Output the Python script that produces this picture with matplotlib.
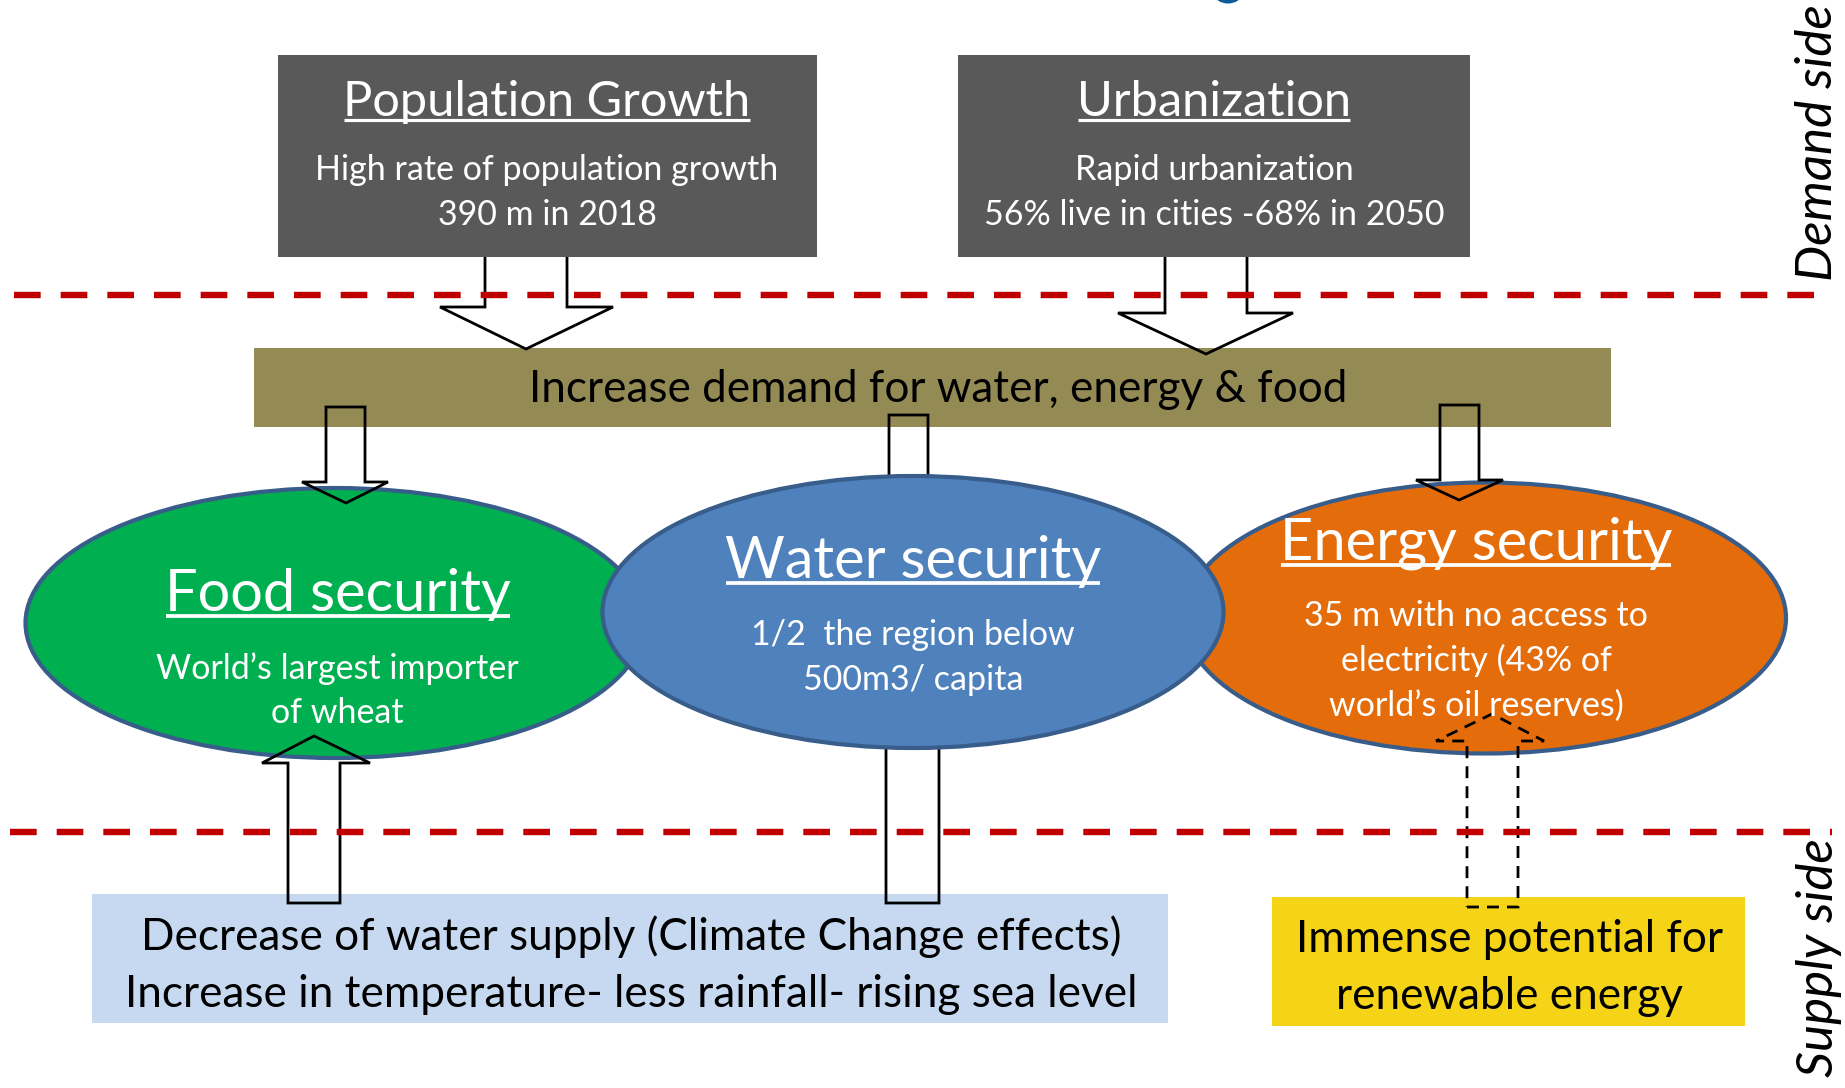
import matplotlib
matplotlib.use("Agg")
import matplotlib.pyplot as plt
from matplotlib.patches import Rectangle, Ellipse, Polygon

plt.rcParams['font.family'] = ['Lato', 'DejaVu Sans']
plt.rcParams['lines.scale_dashes'] = False

# ---------------- text content ----------------
pop_title = "Population Growth"
pop_text = ["High rate of population growth", "390 m in 2018"]
urb_title = "Urbanization"
urb_text = ["Rapid urbanization", "56% live in cities -68% in 2050"]
demand_text = "Increase demand for water, energy & food"
food_title = "Food security"
food_text = ["World\u2019s largest importer", "of wheat"]
water_title = "Water security"
water_text = ["1/2  the region below", "500m3/ capita"]
energy_title = "Energy security"
energy_text = ["35 m with no access to", "electricity (43% of", "world\u2019s oil reserves)"]
supply_text = ["Decrease of water supply (Climate Change effects)",
               "Increase in temperature- less rainfall- rising sea level"]
renew_text = ["Immense potential for", "renewable energy"]
side_labels = ["Demand side", "Supply side"]

# ---------------- colours ----------------
GREY = "#595959"
OLIVE = "#948A54"
LIGHTBLUE = "#C6D9F1"
YELLOW = "#F5D418"
GREEN = "#00B050"
BLUE = "#4F81BD"
ORANGE = "#E46C0A"
EDGE = "#385D8A"
RED = "#C00000"

W, H = 1845, 1088
fig = plt.figure(figsize=(W / 100, H / 100), dpi=100)
ax = fig.add_axes([0, 0, 1, 1])
ax.set_xlim(0, W)
ax.set_ylim(H, 0)
ax.axis('off')
renderer = fig.canvas.get_renderer()

# ---------------- boxes ----------------
def box(l, t, r, b, color, z):
    ax.add_patch(Rectangle((l, t), r - l, b - t, facecolor=color, edgecolor='none', zorder=z))

box(278, 55, 817, 257, GREY, 5)
box(958, 55, 1470, 257, GREY, 5)
box(254, 348, 1611, 427, OLIVE, 1)
box(92, 894, 1168, 1023, LIGHTBLUE, 1)
box(1272, 897, 1745, 1026, YELLOW, 1)

# clipped title glyph at the very top
ax.add_patch(Ellipse((1228, -5), 26, 17, facecolor="#0F5A9C", edgecolor='none', zorder=1))

# ---------------- ellipses ----------------
def ell(cx, cy, w, h, color, z):
    ax.add_patch(Ellipse((cx, cy), w, h, facecolor=color, edgecolor=EDGE, lw=3.0, zorder=z))

ell(335, 623, 619, 270, GREEN, 3)
ell(1485, 618, 602, 271, ORANGE, 3.1)
ell(913, 612, 621, 272, BLUE, 3.2)

# ---------------- arrows ----------------
def down_arrow(xl, xr, top, neck, wl, wr, tx, ty, z=4, ls='-'):
    pts = [(xl, top), (xr, top), (xr, neck), (wr, neck), (tx, ty), (wl, neck), (xl, neck)]
    ax.add_patch(Polygon(pts, closed=True, facecolor='none', edgecolor='black',
                         lw=2.0, linestyle=ls, joinstyle='miter', zorder=z))

def up_arrow(xl, xr, bottom, neck, wl, wr, tx, ty, z=4, ls='-'):
    pts = [(xl, bottom), (xr, bottom), (xr, neck), (wr, neck), (tx, ty), (wl, neck), (xl, neck)]
    ax.add_patch(Polygon(pts, closed=True, facecolor='none', edgecolor='black',
                         lw=2.0, linestyle=ls, joinstyle='miter', zorder=z))

down_arrow(485, 567, 250, 307, 440, 613, 526, 349)
down_arrow(1165, 1247, 250, 313, 1118, 1293, 1206, 354)
down_arrow(326, 365, 407, 482, 302, 388, 346, 503)
down_arrow(1440, 1479, 405, 480, 1416, 1503, 1459, 500)
down_arrow(889, 928, 415, 560, 870, 947, 908, 600, z=2)
up_arrow(886, 939, 903, 660, 866, 959, 912, 620, z=2)
up_arrow(288, 340, 903, 763, 262, 370, 314, 736)
up_arrow(1467, 1518, 907, 741, 1436, 1544, 1492, 714, ls=(0, (8.6, 5.8)))

# ---------------- red dashed separators ----------------
for yy, x0 in [(295, 14), (832, 10)]:
    ax.plot([x0, 1832], [yy, yy], color=RED, lw=4.6, linestyle=(0, (19.2, 14.4)),
            dash_capstyle='butt', solid_capstyle='butt', zorder=6)

# ---------------- text helpers ----------------
def measure(s, fs, **kw):
    t = ax.text(0, 0, s, fontsize=fs, **kw)
    w = t.get_window_extent(renderer).width
    t.remove()
    return w

def group_fs(strings, widths, **kw):
    vals = [wt / measure(s, 20, **kw) * 20 for s, wt in zip(strings, widths)]
    return sum(vals) / len(vals)

def place(s, x, cy, fs, color, underline=False, **kw):
    fpx = fs * 100 / 72
    base = cy + 0.34 * fpx
    t = ax.text(x, base, s, fontsize=fs, color=color, ha='center', va='baseline',
                zorder=10, **kw)
    if underline:
        bb = t.get_window_extent(renderer)
        uy = base + 0.10 * fpx
        ax.plot([bb.x0 + 0.02 * fpx, bb.x1 - 0.02 * fpx], [uy, uy], color=color,
                lw=0.065 * fpx * 0.72, solid_capstyle='butt', zorder=10)
    return t

# title groups
big_titles = [pop_title, urb_title]
fs_big = group_fs(big_titles, [407, 275])
place(pop_title, 547, 99, fs_big, 'white', underline=True)
place(urb_title, 1214, 99, fs_big, 'white', underline=True)

ell_titles = [food_title, water_title, energy_title]
fs_ell = group_fs(ell_titles, [346, 377, 394])
place(food_title, 338, 591, fs_ell, 'white', underline=True)
place(water_title, 913, 558, fs_ell, 'white', underline=True)
place(energy_title, 1476, 540, fs_ell, 'white', underline=True)

# small white texts
small = pop_text + urb_text + food_text + water_text + energy_text
small_w = [467, 214, 284, 453, 365, 134, 324, 218, 344, 273, 299]
fs_small = group_fs(small, small_w)
for s, cy in zip(pop_text, [168, 213]):
    place(s, 547, cy, fs_small, 'white')
for s, cy in zip(urb_text, [168, 213]):
    place(s, 1214, cy, fs_small, 'white')
for s, cy in zip(food_text, [667, 711]):
    place(s, 337, cy, fs_small, 'white')
for s, cy in zip(water_text, [633, 678]):
    place(s, 913, cy, fs_small, 'white')
for s, cy in zip(energy_text, [614, 659, 704]):
    place(s, 1476, cy, fs_small, 'white')

# olive bar text
fs_dem = group_fs([demand_text], [819])
place(demand_text, 938, 387, fs_dem, 'black')

# supply-side boxes
bottom = supply_text + renew_text
fs_bot = group_fs(bottom, [975, 1017, 432, 348])
for s, cy in zip(supply_text, [935, 992]):
    place(s, 631, cy, fs_bot, 'black')
for s, cy in zip(renew_text, [937, 994]):
    place(s, 1509, cy, fs_bot, 'black')

# side labels (rotated, italic)
fs_side = group_fs(side_labels, [274, 240], style='italic')
for s, (bx, cy) in zip(side_labels, [(1832, 143), (1833, 958)]):
    ax.text(bx, cy, s, fontsize=fs_side, style='italic', color='black', rotation=90,
            rotation_mode='anchor', ha='center', va='baseline', zorder=10)

fig.savefig("out.png", dpi=100)
